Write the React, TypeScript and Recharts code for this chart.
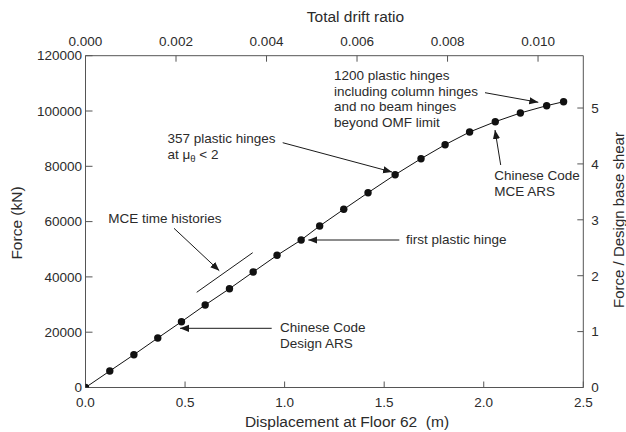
import React from 'react';
import { ComposedChart, Line, XAxis, YAxis } from 'recharts';

// Displacement at Floor 62 (m)
const displacement = [0, 0.122, 0.243, 0.363, 0.482, 0.601, 0.723, 0.842, 0.962, 1.083, 1.176, 1.297, 1.419, 1.555, 1.685, 1.806, 1.929, 2.058, 2.184, 2.316, 2.401];
// Force (kN)
const force = [0, 5970, 11860, 17900, 23800, 29840, 35730, 41770, 47810, 53350, 58410, 64450, 70450, 76960, 82750, 87810, 92400, 96130, 99280, 101920, 103360];

const dispTicks = [0, 0.5, 1.0, 1.5, 2.0, 2.5];
const forceTicks = [0, 20000, 40000, 60000, 80000, 100000, 120000];
const driftTicks = [0, 0.002, 0.004, 0.006, 0.008, 0.01];
const ratioTicks = [0, 1, 2, 3, 4, 5];

const rows = displacement.map((x, i) => ({ x, force: force[i] }));

const FONT = '"Liberation Sans", Arial, sans-serif';
const TXT = '#2b2b2b';
const AX = '#555';
const tickStyle = { fontSize: 13.5, fill: TXT, fontFamily: FONT };

export default function App() {
  return (
    <div style={{ position: 'absolute', left: 0, top: 0, width: 626, height: 432 }}>
      <ComposedChart
        width={626}
        height={432}
        data={rows}
        margin={{ top: 0, right: 0, bottom: 0, left: 0 }}
        style={{ fontFamily: FONT }}
      >
        <XAxis
          xAxisId="bottom"
          type="number"
          dataKey="x"
          domain={[0, 2.5]}
          ticks={dispTicks}
          tickFormatter={(v: number) => v.toFixed(1)}
          height={44.5}
          tickSize={-6}
          tickMargin={16.4}
          tick={tickStyle}
          axisLine={{ stroke: AX }}
          tickLine={{ stroke: AX }}
          allowDataOverflow
        />
        <XAxis
          xAxisId="top"
          orientation="top"
          type="number"
          dataKey="x"
          domain={[0, 0.011]}
          ticks={driftTicks}
          tickFormatter={(v: number) => v.toFixed(3)}
          height={55.7}
          tickSize={-6}
          tickMargin={16.2}
          tick={tickStyle}
          axisLine={{ stroke: AX }}
          tickLine={{ stroke: AX }}
          allowDataOverflow
        />
        <YAxis
          yAxisId="left"
          type="number"
          domain={[0, 120000]}
          ticks={forceTicks}
          width={85.5}
          tickSize={-7}
          tickMargin={10.5}
          tick={tickStyle}
          axisLine={{ stroke: AX }}
          tickLine={{ stroke: AX }}
          allowDataOverflow
        />
        <YAxis
          yAxisId="right"
          orientation="right"
          type="number"
          domain={[0, 5.936]}
          ticks={ratioTicks}
          width={42.7}
          tickSize={-6}
          tickMargin={14}
          tick={tickStyle}
          axisLine={{ stroke: AX }}
          tickLine={{ stroke: AX }}
          allowDataOverflow
        />
        <Line
          xAxisId="bottom"
          yAxisId="left"
          type="linear"
          dataKey="force"
          stroke="#111"
          strokeWidth={1}
          dot={{ r: 3.7, fill: '#111', stroke: '#111', strokeWidth: 0 }}
          activeDot={false}
          isAnimationActive={false}
        />
      </ComposedChart>
      <svg
        width={626}
        height={432}
        style={{ position: 'absolute', left: 0, top: 0, pointerEvents: 'none', fontFamily: FONT }}
      >
        <defs>
          <marker id="ah" viewBox="0 0 10 10" refX="10" refY="5" markerWidth="9" markerHeight="9" markerUnits="userSpaceOnUse" orient="auto">
            <path d="M0,1 L10,5 L0,9 z" fill="#1a1a1a" />
          </marker>
        </defs>
        {/* axis titles */}
        <text x={355.5} y={21.5} fontSize={15.5} fill={TXT} textAnchor="middle">Total drift ratio</text>
        <text x={347} y={427} fontSize={15.5} fill={TXT} textAnchor="middle">{'Displacement at Floor 62\u00A0\u00A0(m)'}</text>
        <text x={22} y={223} fontSize={15.5} fill={TXT} textAnchor="middle" transform="rotate(-90 22 223)">Force (kN)</text>
        <text x={624} y={220} fontSize={15} fill={TXT} textAnchor="middle" transform="rotate(-90 624 220)">Force / Design base shear</text>

        {/* annotations */}
        <g fontSize={13.5} fill={TXT}>
          <text x={334} y={80}>1200 plastic hinges</text>
          <text x={334} y={95.5}>including column hinges</text>
          <text x={334} y={111}>and no beam hinges</text>
          <text x={334} y={126.5}>beyond OMF limit</text>

          <text x={167.5} y={142.5}>357 plastic hinges</text>
          <text x={167.5} y={159}>
            at μ<tspan fontSize={9.5} dy={3}>θ</tspan><tspan dy={-3}> &lt; 2</tspan>
          </text>

          <text x={108.3} y={223}>MCE time histories</text>
          <text x={406} y={244}>first plastic hinge</text>

          <text x={280} y={332}>Chinese Code</text>
          <text x={280} y={348}>Design ARS</text>

          <text x={494.3} y={180}>Chinese Code</text>
          <text x={494.3} y={195.5}>MCE ARS</text>
        </g>
        <g stroke="#1a1a1a" strokeWidth={1} fill="none">
          <line x1={485} y1={92.7} x2={538.3} y2={102.3} markerEnd="url(#ah)" />
          <line x1={282.7} y1={142.7} x2={392} y2={172} markerEnd="url(#ah)" />
          <line x1={174} y1={228.3} x2={219.3} y2={270.7} markerEnd="url(#ah)" />
          <line x1={196.7} y1={292.3} x2={252.7} y2={252.7} />
          <line x1={399.3} y1={240} x2={308.3} y2={240} markerEnd="url(#ah)" />
          <line x1={271.7} y1={328.3} x2={180} y2={328.3} markerEnd="url(#ah)" />
          <line x1={500.7} y1={165} x2={495} y2={130} markerEnd="url(#ah)" />
        </g>
      </svg>
    </div>
  );
}
